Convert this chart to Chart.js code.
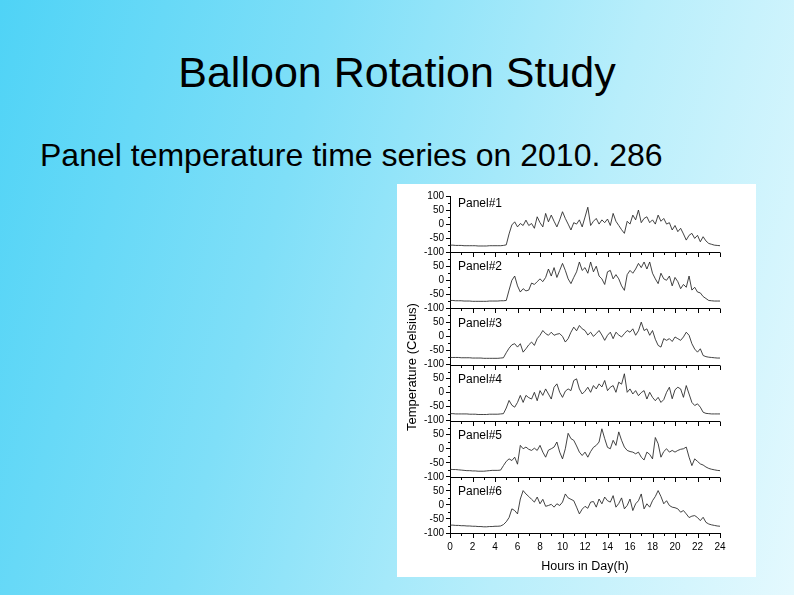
<!DOCTYPE html>
<html>
<head>
<meta charset="utf-8">
<script src="https://cdn.jsdelivr.net/npm/chart.js@4.4.0/dist/chart.umd.min.js"></script>
<style>
    html, body { margin: 0; padding: 0; }
    body {
        width: 794px; height: 595px; overflow: hidden; position: relative;
        background: linear-gradient(105deg, #4fd3f6 0%, #7fdff8 35%, #b8eefb 68%, #e4f9fe 100%);
        font-family: "Liberation Sans", Arial, sans-serif; color: #000;
    }
    .title { position: absolute; left: 0; top: 48px; width: 794px; text-align: center; font-size: 43px; }
    .sub { position: absolute; left: 40px; top: 137px; font-size: 32px; white-space: nowrap; }
    .box { position: absolute; left: 397px; top: 184px; width: 359px; height: 393px; background: #fff; }
    .ytitle {
        position: absolute; left: -85px; top: 175px; width: 200px; height: 16px; line-height: 16px;
        text-align: center; font-size: 13px; transform: rotate(-90deg); white-space: nowrap;
    }
    #chart { position: absolute; left: 0; top: 0; }
</style>
</head>
<body>
<div class="title">Balloon Rotation Study</div>
<div class="sub">Panel temperature time series on 2010. 286</div>
<div class="box">
    <canvas id="chart" width="359" height="393"></canvas>
    <div class="ytitle">Temperature (Celsius)</div>
</div>
<script>
// hours of the day (x values)
const hours = [
    0, 0.25, 0.5, 0.75, 1, 1.25, 1.5, 1.75, 2, 2.25, 2.5, 2.75, 3, 3.25, 3.5, 3.75, 4, 4.25, 4.5, 4.75,
    5, 5.25, 5.5, 5.75, 6, 6.25, 6.5, 6.75, 7, 7.25, 7.5, 7.75, 8, 8.25, 8.5, 8.75, 9, 9.25, 9.5, 9.75,
    10, 10.25, 10.5, 10.75, 11, 11.25, 11.5, 11.75, 12, 12.25, 12.5, 12.75, 13, 13.25, 13.5, 13.75, 14, 14.25, 14.5, 14.75,
    15, 15.25, 15.5, 15.75, 16, 16.25, 16.5, 16.75, 17, 17.25, 17.5, 17.75, 18, 18.25, 18.5, 18.75, 19, 19.25, 19.5, 19.75,
    20, 20.25, 20.5, 20.75, 21, 21.25, 21.5, 21.75, 22, 22.25, 22.5, 22.75, 23, 23.25, 23.5, 23.75, 24
];

const panelNames = ['Panel#1', 'Panel#2', 'Panel#3', 'Panel#4', 'Panel#5', 'Panel#6'];

// temperatures (Celsius)
const panel1 = [
    -75, -75, -76, -76, -76, -77, -77, -77, -77, -77, -78, -78, -78, -78, -77, -77, -77, -77, -77, -76,
    -74, -35, -3, 8, -10, 2, -5, 14, -5, 2, -15, 26, 5, -10, 38, 8, 32, 10, -10, 15,
    44, 20, 0, -21, 5, 0, 15, -10, 25, 60, -5, 10, 20, 0, 15, 5, 18, -5, 38, 10,
    -5, -20, -33, 10, 0, 32, 15, 50, 5, 20, 26, 5, 15, 0, 32, 10, 20, 0, 5, -21,
    -5, -27, -15, -35, -57, -40, -33, -51, -40, -63, -45, -60, -69, -72, -75, -76, -77
];
const panel2 = [
    -72, -72, -73, -73, -73, -74, -74, -74, -75, -75, -75, -75, -75, -75, -74, -74, -74, -74, -73, -73,
    -72, -35, 0, 15, -20, -42, -30, -38, -35, -10, -15, -5, 5, -5, 10, 40, 15, 45, 10, 35,
    60, 35, 5, -12, 10, 30, 65, 35, 45, 25, 65, 30, 50, 15, 5, -15, 30, 35, 5, 20,
    5, -20, -36, 20, 35, 25, 40, 60, 45, 65, 40, 65, 25, 5, -12, 25, 5, 0, 15, -20,
    10, -5, -30, -15, -25, 15, -35, -25, -42, -45, -58, -65, -72, -73, -74, -74, -74
];
const panel3 = [
    -75, -75, -75, -75, -76, -76, -76, -76, -77, -77, -77, -77, -78, -78, -78, -78, -78, -78, -77, -76,
    -58, -42, -30, -26, -38, -26, -56, -44, -30, -20, -32, -8, 4, 21, 10, 4, 15, 4, 8, 10,
    0, -20, -8, 15, 33, 20, 39, 27, 21, 5, 15, 0, 10, 21, 5, -14, 4, 15, -8, 15,
    5, -2, 10, 21, 15, 27, 4, 20, 51, 21, 27, 4, 21, -10, -32, -38, -8, -14, -8, -18,
    -2, -8, -14, -2, 15, 4, -26, -45, -56, -44, -68, -72, -74, -75, -76, -77, -77
];
const panel4 = [
    -75, -75, -76, -76, -76, -76, -76, -77, -77, -77, -78, -78, -78, -78, -77, -77, -77, -77, -76, -75,
    -55, -28, -45, -52, -35, -10, -35, -10, -18, -23, 1, -29, 7, -10, 13, -5, -23, 19, 31, 1,
    -17, 5, 13, 7, 43, 49, 13, -5, 5, 19, 1, 25, 13, 31, 20, 43, 7, 19, 25, 1,
    37, 30, 67, 1, 13, -5, 7, -11, 0, 7, -23, 1, -17, -29, -17, -35, -25, 1, 19, -22,
    10, 19, 13, -17, 25, -5, -35, -46, -40, -52, -70, -74, -75, -76, -76, -76, -76
];
const panel5 = [
    -73, -74, -74, -75, -76, -77, -78, -78, -79, -79, -80, -80, -80, -79, -78, -77, -77, -77, -76, -60,
    -45, -36, -42, -30, -55, 12, 0, 6, -2, -6, 2, -6, 12, -12, -30, -5, 0, 6, 24, -12,
    -36, 0, 55, 36, 30, 10, -12, -24, -12, -30, -10, 5, 12, 24, 71, 36, 5, 0, 30, 12,
    60, 30, 6, -6, -10, -12, -18, -12, -30, -40, -12, -20, -36, 40, 18, -30, -10, 0, -12, -6,
    -12, -6, -2, 0, 6, -30, -60, -36, -45, -54, -58, -65, -70, -73, -75, -77, -78
];
const panel6 = [
    -72, -72, -73, -73, -74, -74, -75, -75, -76, -76, -77, -77, -78, -78, -77, -77, -76, -76, -75, -70,
    -60, -45, -14, -20, -32, 21, 51, 39, 30, 20, 10, 28, 4, 20, -5, -2, 2, -8, 4, -2,
    10, 39, 25, 20, 15, -8, -32, -15, -5, -12, 10, 12, -8, 21, 4, 28, 15, 10, 33, -8,
    5, 25, -14, -2, 21, -20, 4, 15, 39, -14, 4, -8, 15, 30, 51, 30, 4, 15, -2, -8,
    -10, -14, -26, -20, -32, -45, -40, -38, -45, -56, -44, -62, -68, -71, -73, -75, -76
];

const xTicks = [0, 2, 4, 6, 8, 10, 12, 14, 16, 18, 20, 22, 24];
const yTicks = [-100, -50, 0, 50, 100];
const yMinor = [-75, -25, 25, 75];

const series = [panel1, panel2, panel3, panel4, panel5, panel6];
const family = '"Liberation Sans", Arial, sans-serif';

// Scales: one shared x axis, six y axes stacked on the left
const scales = {
    x: {
        type: 'linear', position: 'bottom', min: 0, max: 24,
        afterBuildTicks: s => { s.ticks = xTicks.map(v => ({ value: v })); },
        afterFit: s => { s.height = 44; },
        ticks: { color: '#000', font: { size: 10, family }, padding: 8, maxRotation: 0, autoSkip: false },
        grid: { display: false, drawTicks: false },
        border: { display: true, color: '#000', width: 1 },
        title: { display: true, text: 'Hours in Day(h)', color: '#000', font: { size: 12.5, family }, padding: { top: 0, bottom: 3 } }
    }
};
series.forEach((_, i) => {
    scales['y' + i] = {
        type: 'linear', position: 'left', stack: 'panels', stackWeight: 1, weight: series.length - i,
        min: -100, max: 100,
        afterBuildTicks: s => { s.ticks = yTicks.map(v => ({ value: v })); },
        afterFit: s => { s.width = 53; },
        ticks: {
            color: '#000', font: { size: 10, family }, padding: 2, autoSkip: false,
            callback: v => (i > 0 && v === 100) ? '' : v
        },
        grid: { drawOnChartArea: false, drawTicks: true, tickLength: 4, color: '#000', lineWidth: 1 },
        border: { display: true, color: '#000', width: 1 }
    };
});

// Separators, hour ticks under each panel, minor y ticks and panel names
const panelDecor = {
    id: 'panelDecor',
    afterDraw(chart) {
        const { ctx, chartArea } = chart;
        const xs = chart.scales.x;
        ctx.save();
        ctx.strokeStyle = '#000';
        ctx.fillStyle = '#000';
        ctx.lineWidth = 1;
        series.forEach((_, i) => {
            const ys = chart.scales['y' + i];
            const yb = Math.round(ys.getPixelForValue(-100)) + 0.5;
            ctx.beginPath();
            ctx.moveTo(chartArea.left, yb);
            ctx.lineTo(chartArea.right, yb);
            for (let h = 0; h <= 24; h++) {
                const px = Math.round(xs.getPixelForValue(h)) + 0.5;
                ctx.moveTo(px, yb);
                ctx.lineTo(px, yb + (h % 2 ? 2.5 : 4.5));
            }
            yMinor.forEach(v => {
                const py = Math.round(ys.getPixelForValue(v)) + 0.5;
                ctx.moveTo(ys.right - 2, py);
                ctx.lineTo(ys.right, py);
            });
            ctx.stroke();
            ctx.font = '12px ' + family;
            ctx.textBaseline = 'middle';
            ctx.fillText(panelNames[i], chartArea.left + 8, ys.top + (i === 0 ? 8 : 15));
        });
        ctx.restore();
    }
};

new Chart(document.getElementById('chart'), {
    type: 'line',
    data: {
        datasets: series.map((vals, i) => ({
            label: panelNames[i],
            data: hours.map((h, k) => ({ x: h, y: vals[k] })),
            yAxisID: 'y' + i,
            borderColor: '#222',
            borderWidth: 0.85,
            pointRadius: 0,
            tension: 0,
            fill: false
        }))
    },
    options: {
        responsive: false,
        animation: false,
        layout: { padding: { top: 12, right: 36, left: 0, bottom: 0 } },
        scales,
        plugins: {
            legend: { display: false },
            tooltip: { enabled: false }
        }
    },
    plugins: [panelDecor]
});
</script>
</body>
</html>
